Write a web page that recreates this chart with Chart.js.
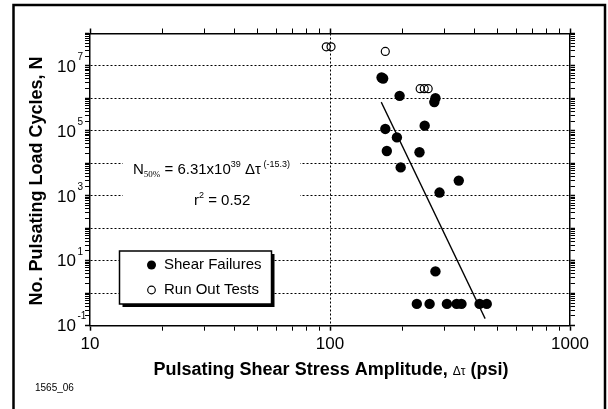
<!DOCTYPE html>
<html>
<head>
<meta charset="utf-8">
<script src="https://cdn.jsdelivr.net/npm/chart.js@4.4.1/dist/chart.umd.min.js"></script>
<style>
  html, body { margin: 0; padding: 0; background: #fff; }
  #wrap { width: 608px; height: 409px; position: relative; }
</style>
</head>
<body>
<div id="wrap"><canvas id="fatigueChart"></canvas></div>
<script>
// shear failures (stress amplitude psi, cycles)
const failStress = [164, 166.5, 195, 275, 272, 170, 248, 190, 172.5, 236, 197, 344, 286, 275, 230, 260, 307, 337, 353, 420, 450];
const failCycles = [4.4e6, 4.1e6, 1.2e6, 1.02e6, 7.7e5, 1.15e5, 1.45e5, 6.3e4, 2.4e4, 2.2e4, 7.5e3, 2.95e3, 1.26e3, 4.7, 0.47, 0.47, 0.47, 0.47, 0.47, 0.47, 0.47];
// run out tests
const runStress = [96.5, 101, 170, 237.5, 247, 256.5];
const runCycles = [3.9e7, 3.9e7, 2.8e7, 2.0e6, 2.0e6, 2.0e6];
// N50% fit line end points
const fitStress = [163.5, 443];
const fitCycles = [7.7e5, 0.165];

const xTickLabels = ["10", "100", "1000"];
const yTickExponents = [-1, 1, 3, 5, 7];
const seriesNames = ["Shear Failures", "Run Out Tests"];

const FONT = '"Liberation Sans", Arial, sans-serif';

function toPoints(xs, ys) {
    return xs.map((x, i) => ({ x: x, y: ys[i] }));
}

function isDecade(v) {
    const l = Math.log10(v);
    return Math.abs(l - Math.round(l)) < 1e-9;
}

function logTicks(minExp, maxExp) {
    const out = [];
    for (let e = minExp; e < maxExp; e++) {
        for (let m = 1; m <= 9; m++) out.push({ value: m * Math.pow(10, e) });
    }
    out.push({ value: Math.pow(10, maxExp) });
    return out;
}

const tickStyle = {
    tickColor: "#000",
    tickLength: 5,
    tickWidth: c => (c.tick && isDecade(c.tick.value)) ? 1.5 : 1
};

const decorPlugin = {
    id: "decor",
    beforeDatasetsDraw(chart) {
        const ctx = chart.ctx;
        // white patch behind the equation
        ctx.save();
        ctx.fillStyle = "#fff";
        ctx.fillRect(123, 153, 177, 58);
        ctx.fillStyle = "#000";
        ctx.textBaseline = "alphabetic";
        ctx.textAlign = "left";
        const main = "15px " + FONT;
        const small = "9px " + FONT;
        let x = 133, base = 174;
        const put = (t, font, dy) => {
            ctx.font = font;
            ctx.fillText(t, x, base + dy);
            x += ctx.measureText(t).width;
        };
        put("N", main, 0);
        put("50%", '9px "Liberation Serif", serif', 3);
        put(" = 6.31x10", main, 0);
        put("39", small, -7);
        put(" \u0394\u03c4", main, 0);
        put(" (-15.3)", small, -7);

        x = 194; base = 205;
        put("r", main, 0);
        put("2", small, -7);
        put(" = 0.52", main, 0);
        ctx.restore();
    },
    afterDatasetsDraw(chart) {
        const ctx = chart.ctx;
        const ds = chart.data.datasets;
        ctx.save();
        // legend box with drop shadow
        ctx.fillStyle = "#000";
        ctx.fillRect(122.5, 254, 152, 53);
        ctx.fillStyle = "#fff";
        ctx.fillRect(119.5, 251, 152, 53);
        ctx.strokeStyle = "#000";
        ctx.lineWidth = 1.5;
        ctx.strokeRect(119.5, 251, 152, 53);

        ctx.beginPath();
        ctx.arc(151.5, 265, 4.5, 0, Math.PI * 2);
        ctx.fillStyle = "#000";
        ctx.fill();
        ctx.beginPath();
        ctx.arc(151.5, 290, 3.8, 0, Math.PI * 2);
        ctx.lineWidth = 1.2;
        ctx.stroke();

        ctx.font = "15px " + FONT;
        ctx.textBaseline = "middle";
        ctx.textAlign = "left";
        ctx.fillText(ds[0].label, 164, 265);
        ctx.fillText(ds[1].label, 164, 290);
        ctx.restore();
    },
    afterDraw(chart) {
        const ctx = chart.ctx;
        const yScale = chart.scales.y;
        ctx.save();
        ctx.fillStyle = "#000";

        // y tick labels 10^n
        yTickExponents.forEach(e => {
            const py = yScale.getPixelForValue(Math.pow(10, e));
            ctx.font = "17px " + FONT;
            ctx.textAlign = "right";
            ctx.textBaseline = "middle";
            ctx.fillText("10", 76, py + 1);
            ctx.font = "10px " + FONT;
            ctx.textAlign = "left";
            ctx.fillText(String(e), 77.5, py - 9);
        });

        // x title with small delta-tau
        const bold = "bold 18px " + FONT;
        const sym = "12px " + FONT;
        const parts = [["Pulsating Shear Stress Amplitude, ", bold], ["\u0394\u03c4", sym], [" (psi)", bold]];
        let w = 0;
        parts.forEach(p => { ctx.font = p[1]; w += ctx.measureText(p[0]).width; });
        let x = 331 - w / 2;
        ctx.textAlign = "left";
        ctx.textBaseline = "alphabetic";
        parts.forEach(p => {
            ctx.font = p[1];
            ctx.fillText(p[0], x, 375);
            x += ctx.measureText(p[0]).width;
        });

        // y title
        ctx.save();
        ctx.translate(37, 181);
        ctx.rotate(-Math.PI / 2);
        ctx.font = bold;
        ctx.textAlign = "center";
        ctx.textBaseline = "middle";
        ctx.fillText("No. Pulsating Load Cycles, N", 0, 0);
        ctx.restore();

        ctx.font = "10px " + FONT;
        ctx.textAlign = "left";
        ctx.textBaseline = "middle";
        ctx.fillText("1565_06", 35, 388);

        // outer frame
        ctx.strokeStyle = "#000";
        ctx.lineWidth = 2.5;
        ctx.strokeRect(13.5, 5, 591.5, 420);
        ctx.restore();
    }
};

const ctx = document.getElementById("fatigueChart").getContext("2d");

new Chart(ctx, {
    type: "scatter",
    data: {
        datasets: [
            {
                label: seriesNames[0],
                data: toPoints(failStress, failCycles),
                pointRadius: 5.2,
                pointHoverRadius: 5.2,
                backgroundColor: "#000",
                borderColor: "#000",
                borderWidth: 0
            },
            {
                label: seriesNames[1],
                data: toPoints(runStress, runCycles),
                pointRadius: 4,
                pointHoverRadius: 4,
                backgroundColor: "rgba(0,0,0,0)",
                borderColor: "#000",
                borderWidth: 1.2
            },
            {
                label: "N50% fit",
                type: "line",
                data: toPoints(fitStress, fitCycles),
                showLine: true,
                pointRadius: 0,
                borderColor: "#000",
                borderWidth: 1.3,
                fill: false
            }
        ]
    },
    options: {
        responsive: true,
        maintainAspectRatio: false,
        animation: false,
        layout: { padding: { top: 29, left: 0, right: 0, bottom: 0 } },
        plugins: {
            legend: { display: false },
            tooltip: { enabled: false }
        },
        scales: {
            x: {
                type: "logarithmic",
                position: "bottom",
                min: 10,
                max: 1000,
                afterBuildTicks: s => { s.ticks = logTicks(1, 3); },
                afterFit: s => { s.height = 83.3; },
                border: { display: true, color: "#000", width: 1.5, dash: [2, 2] },
                grid: Object.assign({
                    color: c => (c.tick && c.tick.value === 100) ? "#000" : "rgba(0,0,0,0)",
                    lineWidth: 1
                }, tickStyle),
                ticks: {
                    autoSkip: false,
                    maxRotation: 0,
                    color: "#000",
                    padding: 3,
                    font: { family: FONT, size: 17 },
                    callback: v => {
                        const s = String(Math.round(v));
                        return isDecade(v) && xTickLabels.includes(s) ? s : "";
                    }
                }
            },
            x2: {
                type: "logarithmic",
                position: "top",
                min: 10,
                max: 1000,
                afterBuildTicks: s => { s.ticks = logTicks(1, 3); },
                afterFit: s => { s.height = 4.5; },
                border: { display: true, color: "#000", width: 1.5 },
                grid: Object.assign({ drawOnChartArea: false }, tickStyle),
                ticks: { display: false, autoSkip: false }
            },
            y: {
                type: "logarithmic",
                position: "left",
                min: 0.1,
                max: 1e8,
                afterBuildTicks: s => { s.ticks = logTicks(-1, 8); },
                afterFit: s => { s.width = 90; },
                border: { display: true, color: "#000", width: 1.5, dash: [2, 2] },
                grid: Object.assign({
                    color: c => {
                        if (!c.tick) return "rgba(0,0,0,0)";
                        const v = c.tick.value;
                        return (isDecade(v) && v > 0.5 && v < 5e7) ? "#000" : "rgba(0,0,0,0)";
                    },
                    lineWidth: 1
                }, tickStyle),
                ticks: { autoSkip: false, callback: () => "" }
            },
            y2: {
                type: "logarithmic",
                position: "right",
                min: 0.1,
                max: 1e8,
                afterBuildTicks: s => { s.ticks = logTicks(-1, 8); },
                afterFit: s => { s.width = 38; },
                border: { display: true, color: "#000", width: 1.5 },
                grid: Object.assign({ drawOnChartArea: false }, tickStyle),
                ticks: { display: false, autoSkip: false }
            }
        }
    },
    plugins: [decorPlugin]
});
</script>
</body>
</html>
